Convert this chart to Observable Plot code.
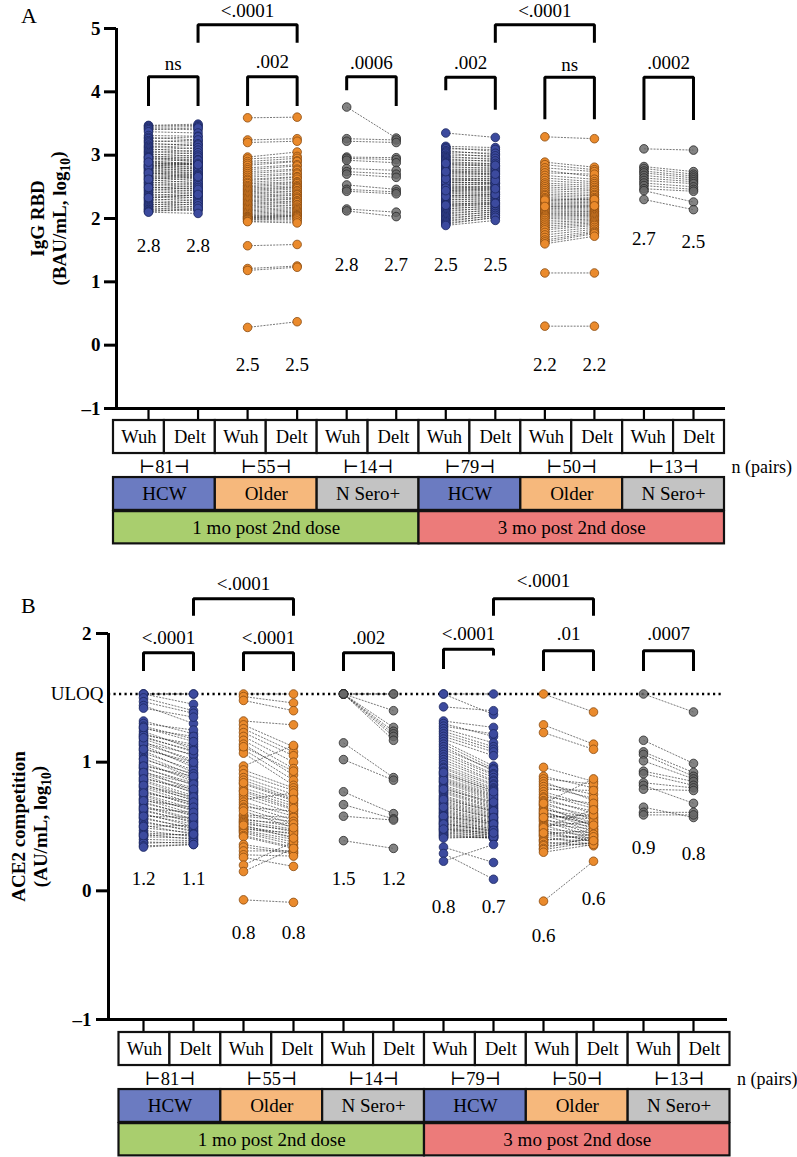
<!DOCTYPE html>
<html>
<head>
<meta charset="utf-8">
<script src="https://cdn.jsdelivr.net/npm/d3@7"></script>
<script src="https://cdn.jsdelivr.net/npm/@observablehq/plot@0.6"></script>
<style>
  body { margin: 0; background: #ffffff; }
  #wrap { position: relative; width: 797px; height: 1157px; font-family: "Liberation Serif", serif; overflow: hidden; }
  #wrap svg { position: absolute; left: 0; overflow: visible; }
  #wrap svg text { font-family: "Liberation Serif", "DejaVu Serif", serif; }
  .lab { position: absolute; font-size: 22px; font-family: "Liberation Serif", serif; }
</style>
</head>
<body>
<div id="wrap">
  <div class="lab" style="left:21px; top:3px;">A</div>
  <div class="lab" style="left:21px; top:593px;">B</div>
</div>
<script>
// ---------------- DATA ----------------
const strains = ["Wuh", "Delt"];
const cohorts = ["HCW", "Older", "N Sero+"];
const timepoints = ["1 mo post 2nd dose", "3 mo post 2nd dose"];
const nPairs = [81, 55, 14, 79, 50, 13];

// Panel A: IgG RBD (BAU/mL, log10)
const iggHcw1Wuh = [3.47,3.46,3.44,3.42,3.40,3.37,3.31,3.28,3.26,3.23,
 3.21,3.19,3.16,3.14,3.12,3.10,3.08,3.06,3.04,3.02,
 3.00,2.98,2.97,2.95,2.93,2.91,2.90,2.88,2.86,2.85,
 2.84,2.82,2.81,2.80,2.79,2.77,2.76,2.74,2.73,2.71,
 2.70,2.68,2.66,2.65,2.63,2.61,2.59,2.57,2.56,2.54,
 2.52,2.50,2.48,2.46,2.44,2.42,2.40,2.38,2.36,2.34,
 2.32,2.30,2.28,2.26,2.24,2.22,2.21,2.19,2.17,2.15,
 2.14,2.12,2.11,2.10,2.96,2.83,2.72,2.62,2.49,2.33,
 2.89];
const iggHcw1Delt = [3.49,3.47,3.45,3.40,3.43,3.35,3.30,3.24,3.29,3.20,
 3.24,3.15,3.18,3.10,3.16,3.05,3.12,3.02,3.08,2.98,
 3.04,2.95,3.00,2.90,2.97,2.86,2.93,2.84,2.90,2.80,
 2.88,2.78,2.86,2.75,2.83,2.72,2.80,2.70,2.77,2.66,
 2.74,2.64,2.70,2.60,2.68,2.56,2.64,2.53,2.60,2.50,
 2.56,2.47,2.52,2.43,2.49,2.40,2.45,2.36,2.41,2.33,
 2.37,2.29,2.34,2.25,2.30,2.22,2.27,2.18,2.24,2.15,
 2.20,2.13,2.16,2.08,2.92,2.87,2.68,2.66,2.46,2.38,
 2.85];
const iggOld1Wuh = [3.59,3.24,3.20,
 2.97,2.94,2.90,2.87,2.84,2.80,2.77,2.74,2.71,2.68,
 2.65,2.62,2.60,2.57,2.55,2.52,2.50,2.48,2.46,2.44,
 2.42,2.40,2.38,2.36,2.34,2.32,2.30,2.28,2.26,2.24,
 2.22,2.20,2.18,2.16,2.14,2.12,2.10,2.08,2.06,2.04,
 2.03,2.02,2.01,2.00,1.99,1.98,1.96,1.95,
 1.57,1.21,1.18,0.28];
const iggOld1Delt = [3.60,3.26,3.22,
 3.05,2.98,2.95,2.91,2.90,2.85,2.83,2.78,2.76,2.72,
 2.70,2.66,2.65,2.62,2.58,2.57,2.55,2.52,2.50,2.49,
 2.47,2.44,2.43,2.40,2.38,2.37,2.34,2.32,2.31,2.28,
 2.27,2.25,2.22,2.21,2.18,2.16,2.14,2.12,2.10,2.08,
 2.06,2.05,2.04,2.03,2.01,1.99,1.96,1.93,
 1.59,1.25,1.23,0.37];
const iggSero1Wuh = [3.76,3.26,3.22,2.97,2.95,2.92,2.79,2.74,2.70,2.53,2.46,2.43,2.15,2.12];
const iggSero1Delt = [3.27,3.24,3.20,2.96,2.93,2.88,2.76,2.70,2.65,2.46,2.42,2.39,2.10,2.03];
const iggHcw3Wuh = [3.35,
 3.14,3.12,3.10,3.07,3.05,3.03,3.00,2.98,2.96,2.94,
 2.92,2.90,2.88,2.86,2.84,2.82,2.80,2.78,2.76,2.75,
 2.73,2.71,2.70,2.68,2.66,2.64,2.62,2.61,2.59,2.57,
 2.56,2.54,2.52,2.51,2.49,2.47,2.46,2.44,2.42,2.41,
 2.39,2.37,2.36,2.34,2.32,2.30,2.29,2.27,2.25,2.23,
 2.22,2.20,2.18,2.16,2.15,2.13,2.11,2.09,2.07,2.05,
 2.03,2.01,1.99,1.97,1.95,1.93,1.91,1.89,2.58,2.48,
 2.35,2.63,2.74,2.21,2.44,2.87];
const iggHcw3Delt = [3.28,
 3.12,3.06,3.09,3.01,3.03,2.97,2.99,2.93,2.95,2.90,
 2.91,2.86,2.87,2.82,2.84,2.79,2.80,2.76,2.77,2.73,
 2.74,2.69,2.71,2.66,2.67,2.63,2.64,2.59,2.61,2.56,
 2.57,2.53,2.55,2.49,2.51,2.46,2.48,2.43,2.45,2.40,
 2.41,2.37,2.38,2.34,2.35,2.31,2.32,2.28,2.29,2.25,
 2.26,2.22,2.23,2.19,2.20,2.16,2.17,2.13,2.14,2.10,
 2.11,2.07,2.08,2.04,2.05,2.01,2.02,1.97,2.55,2.50,
 2.38,2.60,2.70,2.24,2.47,2.84];
const iggOld3Wuh = [3.29,
 2.89,2.85,2.80,2.76,2.72,2.68,2.64,2.60,2.56,2.53,
 2.50,2.47,2.44,2.41,2.38,2.36,2.33,2.31,2.28,2.26,
 2.24,2.22,2.20,2.18,2.16,2.14,2.12,2.10,2.08,2.06,
 2.04,2.02,2.00,1.97,1.94,1.91,1.88,1.85,1.82,1.78,
 1.74,1.70,1.66,1.63,1.60,2.29,2.19,
 1.14,0.30];
const iggOld3Delt = [3.26,
 2.81,2.77,2.74,2.66,2.70,2.62,2.58,2.55,2.52,2.49,
 2.46,2.44,2.41,2.38,2.36,2.33,2.31,2.29,2.27,2.25,
 2.23,2.21,2.19,2.17,2.15,2.13,2.11,2.10,2.08,2.06,
 2.05,2.03,2.01,1.99,1.97,1.95,1.93,1.91,1.89,1.86,
 1.83,1.80,1.78,1.76,1.72,2.30,2.20,
 1.14,0.30];
const iggSero3Wuh = [3.10,2.82,2.79,2.75,2.72,2.68,2.64,2.60,2.56,2.52,2.47,2.44,2.30];
const iggSero3Delt = [3.08,2.74,2.70,2.67,2.64,2.61,2.58,2.55,2.50,2.46,2.43,2.26,2.14];

const iggMedians = [2.8,2.8, 2.5,2.5, 2.8,2.7, 2.5,2.5, 2.2,2.2, 2.7,2.5];
const iggP = ["ns", ".002", ".0006", ".002", "ns", ".0002"];
const iggPTop = ["<.0001", "<.0001"];

// Panel B: ACE2 competition (AU/mL, log10)
const aceUloq = 1.53;
const aceHcw1Wuh = [1.53,1.53,1.53,1.50,1.47,1.44,1.42,1.32,1.30,1.28,
 1.26,1.24,1.22,1.20,1.18,1.16,1.14,1.13,1.11,1.09,
 1.07,1.05,1.03,1.00,0.98,0.96,0.95,0.93,0.91,0.90,
 0.88,0.86,0.85,0.83,0.81,0.80,0.78,0.77,0.75,0.74,
 0.72,0.71,0.69,0.68,0.66,0.65,0.63,0.62,0.60,0.59,
 0.57,0.56,0.54,0.53,0.51,0.49,0.47,0.45,0.44,0.42,
 0.40,0.38,0.37,0.35,0.34,1.21,1.15,1.10,1.02,0.97,
 0.92,0.87,0.82,0.76,0.70,0.64,0.58,0.50,0.43,1.27,
 1.19];
const aceHcw1Delt = [1.53,1.53,1.45,1.40,1.38,1.30,1.35,1.22,1.25,1.18,
 1.20,1.10,1.12,1.08,1.05,1.00,1.02,0.96,0.98,0.92,
 0.94,0.90,0.88,0.85,0.87,0.82,0.84,0.78,0.80,0.76,
 0.77,0.74,0.72,0.70,0.71,0.68,0.66,0.67,0.64,0.62,
 0.63,0.60,0.58,0.59,0.56,0.55,0.53,0.54,0.50,0.52,
 0.48,0.49,0.46,0.47,0.44,0.45,0.42,0.43,0.40,0.41,
 0.39,0.37,0.38,0.36,0.36,1.14,1.06,1.00,0.91,0.89,
 0.83,0.79,0.73,0.69,0.65,0.61,0.57,0.51,0.44,1.16,
 1.09];
const aceOld1Wuh = [1.53,1.51,1.48,
 1.32,1.29,1.26,1.23,1.20,1.17,1.14,1.10,1.07,
 0.97,0.94,0.91,0.88,0.86,0.83,0.80,0.78,0.75,0.73,0.71,0.69,0.67,0.65,0.64,
 0.59,0.58,0.56,0.55,0.54,0.53,0.52,0.50,0.49,0.48,0.47,0.46,0.45,0.43,0.42,
 0.36,0.34,0.31,0.28,0.26,0.20,
 0.15,-0.07,
 0.84,0.77,0.62,0.51,1.12];
const aceOld1Delt = [1.53,1.46,1.40,
 1.29,1.12,1.08,1.05,1.00,0.95,0.90,0.86,0.82,
 1.13,0.80,0.78,0.75,0.72,0.70,0.68,0.66,0.63,0.60,0.76,0.58,0.55,0.62,0.52,
 0.57,0.54,0.50,0.52,0.48,0.46,0.47,0.44,0.42,0.45,0.40,0.38,0.36,0.34,0.33,
 0.30,0.29,0.31,0.27,0.19,0.38,
 0.33,-0.09,
 0.71,0.64,0.49,0.41,0.93];
const aceSero1Wuh = [1.53,1.53,1.53,1.53,1.53,1.53,1.53,1.53,1.15,1.02,0.77,0.67,0.58,0.39];
const aceSero1Delt = [1.53,1.53,1.40,1.27,1.24,1.22,1.20,1.17,0.88,0.86,0.60,0.56,0.55,0.33];
const aceHcw3Wuh = [1.53,1.53,1.43,
 1.32,1.30,1.28,1.26,1.24,1.22,1.20,1.18,1.16,1.14,
 1.12,1.10,1.08,1.06,1.04,1.02,1.00,0.98,0.96,0.95,
 0.93,0.91,0.90,0.88,0.87,0.85,0.84,0.82,0.81,0.80,
 0.78,0.77,0.76,0.74,0.73,0.72,0.70,0.69,0.68,0.67,
 0.66,0.64,0.63,0.62,0.61,0.60,0.59,0.58,0.57,0.56,
 0.55,0.54,0.53,0.52,0.51,0.50,0.49,0.48,0.47,0.46,
 0.45,0.44,0.43,0.42,0.41,0.86,0.79,0.71,0.65,0.58,
 0.52,0.48,0.92,
 0.34,0.29,0.23];
const aceHcw3Delt = [1.53,1.37,1.40,
 1.27,1.20,1.22,1.15,1.12,1.10,1.08,1.05,0.97,0.95,
 0.93,0.94,0.91,0.90,0.88,0.86,0.85,0.83,0.82,0.80,
 0.79,0.78,0.76,0.75,0.74,0.72,0.71,0.70,0.68,0.67,
 0.66,0.65,0.64,0.63,0.62,0.61,0.60,0.59,0.58,0.57,
 0.56,0.55,0.54,0.53,0.53,0.52,0.51,0.50,0.49,0.48,
 0.48,0.47,0.46,0.46,0.45,0.44,0.44,0.43,0.43,0.42,
 0.42,0.41,0.41,0.41,0.42,0.73,0.69,0.62,0.57,0.52,
 0.47,0.45,0.77,
 0.22,0.09,0.36];
const aceOld3Wuh = [1.53,1.29,1.23,0.96,
 0.89,0.87,0.85,0.83,0.81,0.79,0.77,0.75,0.73,0.72,
 0.70,0.69,0.67,0.66,0.64,0.63,0.62,0.60,0.59,0.58,
 0.56,0.55,0.54,0.52,0.51,0.50,0.48,0.47,0.46,0.44,
 0.43,0.42,0.40,0.39,0.38,0.36,0.35,0.33,0.32,0.30,
 0.61,0.57,0.49,0.45,0.68,
 -0.08];
const aceOld3Delt = [1.39,1.14,1.10,0.85,
 0.80,0.83,0.70,0.75,0.72,0.78,0.66,0.64,0.68,0.60,
 0.62,0.55,0.58,0.50,0.53,0.57,0.48,0.52,0.46,0.56,
 0.44,0.50,0.42,0.48,0.40,0.54,0.45,0.38,0.43,0.47,
 0.41,0.36,0.39,0.44,0.35,0.40,0.37,0.42,0.38,0.36,
 0.51,0.59,0.63,0.39,0.87,
 0.23];
const aceSero3Wuh = [1.53,1.17,1.08,1.06,1.01,0.93,0.91,0.84,0.82,0.79,0.65,0.61,0.59];
const aceSero3Delt = [1.39,0.99,0.92,0.89,0.87,0.85,0.82,0.80,0.68,0.78,0.57,0.61,0.59];

const aceMedians = [1.2,1.1, 0.8,0.8, 1.5,1.2, 0.8,0.7, 0.6,0.6, 0.9,0.8];
const aceP = ["<.0001", "<.0001", ".002", "<.0001", ".01", ".0007"];
const acePTop = ["<.0001", "<.0001"];

// ---------------- STYLE / LAYOUT ----------------
const W = 797;
const FONT = "Liberation Serif";
const dotFill = ["#3c4a9e", "#ea8a2c", "#686868"];
const dotStroke = ["#1c275f", "#8a4b10", "#2a2a2a"];
const dotOpacity = [1, 1, 0.82];
const boxFill = {"HCW": "#6b7bc1", "Older": "#f6b87c", "N Sero+": "#c3c3c3"};
const timeFill = ["#a9ce6e", "#ec7b7a"];

const wrap = document.getElementById("wrap");
const T = {fontFamily: FONT, fill: "#000"};

function drawPanel(o) {
  const pts = [], links = [];
  o.arrays.forEach(([w, d], k) => {
    w.forEach((v, i) => {
      links.push({x1: 2 * k, x2: 2 * k + 1, y1: v, y2: d[i]});
      pts.push({x: 2 * k, y: v, k: k % 3});
      pts.push({x: 2 * k + 1, y: d[i], k: k % 3});
    });
  });
  const L = o.layout;
  const br = [];
  o.pGroup.forEach((p, k) => {
    const id = "g" + k;
    br.push({x: 2 * k, y: L.legL[k], id}, {x: 2 * k, y: L.gTop[k], id},
            {x: 2 * k + 1, y: L.gTop[k], id}, {x: 2 * k + 1, y: L.legR[k], id});
  });
  o.pTop.forEach((p, j) => {
    const id = "t" + j, a = 6 * j + 1, b = 6 * j + 3;
    br.push({x: a, y: L.tLeg, id}, {x: a, y: L.tTop, id}, {x: b, y: L.tTop, id}, {x: b, y: L.tLeg, id});
  });
  const cols = d3.range(12);
  const marks = [];
  if (o.uloq != null) {
    marks.push(Plot.ruleY([o.uloq], {x1: o.xDom[0], x2: 11.6, stroke: "#000", strokeWidth: 2.6, strokeDasharray: "2.2,3.3"}));
    marks.push(Plot.text(["ULOQ"], {...T, x: o.xDom[0], y: o.uloq, text: d => d, textAnchor: "end", dx: -5, fontSize: 19}));
  }
  marks.push(
    Plot.link(links, {x1: "x1", y1: "y1", x2: "x2", y2: "y2", stroke: "#2a2a2a", strokeWidth: 0.75, strokeDasharray: "2,1.2", strokeOpacity: 0.85}),
    ...[0, 1, 2].map(k => Plot.dot(pts.filter(p => p.k === k), {x: "x", y: "y", r: 4.3, fill: dotFill[k], fillOpacity: dotOpacity[k], stroke: dotStroke[k], strokeWidth: 0.8})),
    Plot.ruleX([o.xDom[0]], {y1: o.yDom[0], y2: o.yDom[1], stroke: "#000", strokeWidth: 3}),
    Plot.ruleY([o.yDom[0]], {x1: o.xDom[0], x2: o.xDom[1], stroke: "#000", strokeWidth: 3}),
    Plot.axisY({ticks: o.ticks, tickSize: 12, tickPadding: o.tickPad, strokeWidth: 3, fontWeight: "bold", fontSize: 19, fontFamily: FONT, label: null,
                tickFormat: d => d < 0 ? "\u2013" + Math.abs(d) : String(d)}),
    Plot.axisX({ticks: cols, tickSize: o.connector, strokeWidth: 2.2, tickFormat: () => "", label: null}),
    Plot.line(br, {x: "x", y: "y", z: "id", stroke: "#000", strokeWidth: 3, strokeLinejoin: "miter", strokeLinecap: "square"}),
    Plot.text(o.pGroup, {...T, x: (d, i) => 2 * i + 0.5, y: (d, i) => L.gText[i], text: d => d, fontSize: 19}),
    Plot.text(o.pTop, {...T, x: (d, i) => 6 * i + 2, y: (d, i) => L.tText[i], text: d => d, fontSize: 19}),
    Plot.text(o.medians, {...T, x: (d, i) => i, y: (d, i) => o.labelY[i], text: d => d.toFixed(1), fontSize: 19}),
    Plot.text([o.title[0]], {...T, x: o.xDom[0], y: o.titleY, text: d => d, rotate: -90, dx: o.titleDx[0], fontWeight: "bold", fontSize: 19}),
    Plot.text([o.title[1]], {...T, x: o.xDom[0], y: o.titleY, text: d => d, rotate: -90, dx: o.titleDx[1], fontWeight: "bold", fontSize: 19})
  );
  const svg = Plot.plot({
    width: W, height: o.height,
    marginTop: o.m[0], marginRight: o.m[1], marginBottom: o.m[2], marginLeft: o.m[3],
    x: {domain: o.xDom}, y: {domain: o.yDom},
    style: {background: "transparent", fontFamily: FONT, fontSize: "18px", color: "#000", overflow: "visible"},
    marks
  });
  // subscript "10" in log10
  d3.select(svg).selectAll("text").each(function () {
    const t = this.textContent;
    if (t.endsWith("log10)")) {
      const s = d3.select(this);
      s.text(null);
      s.append("tspan").text(t.slice(0, -3));
      s.append("tspan").attr("dy", "0.3em").attr("font-size", "0.72em").text("10");
      s.append("tspan").attr("dy", "-0.3em").text(")");
    }
  });
  svg.style.top = o.top + "px";
  wrap.appendChild(svg);
}

function drawTable(o) {
  const sBoxes = d3.range(12).map(i => ({i, s: strains[i % 2]}));
  const gBoxes = d3.range(6).map(k => ({k, g: cohorts[k % 3]}));
  const tBoxes = timepoints.map((t, j) => ({j, t}));
  const R = {s0: 0, s1: 1.065, n: 1.5, g0: 1.84, g1: 2.9, t0: 2.94, t1: 3.98};
  const svg = Plot.plot({
    width: W, height: 130, marginTop: 2, marginBottom: 4, marginLeft: o.x0, marginRight: W - o.x1,
    x: {domain: [0, 12], axis: null}, y: {domain: [0, 4], reverse: true, axis: null},
    color: {type: "identity"},
    style: {background: "transparent", fontFamily: FONT, fontSize: "18px", color: "#000", overflow: "visible"},
    marks: [
      Plot.rect(sBoxes, {x1: d => d.i, x2: d => d.i + 1, y1: R.s0, y2: R.s1, fill: "#fff", stroke: "#111", strokeWidth: 2.2}),
      Plot.text(sBoxes, {...T, x: d => d.i + 0.5, y: (R.s0 + R.s1) / 2, text: "s", fontSize: 18.5}),
      Plot.text(nPairs, {...T, x: (d, i) => 2 * i + 1, y: R.n, text: d => "\u22A2" + d + "\u22A3", fontSize: 18.5}),
      Plot.text(["n (pairs)"], {...T, x: 12, y: R.n, text: d => d, textAnchor: "start", dx: 7, fontSize: 18}),
      Plot.rect(gBoxes, {x1: d => 2 * d.k, x2: d => 2 * d.k + 2, y1: R.g0, y2: R.g1, fill: d => boxFill[d.g], stroke: "#111", strokeWidth: 2.2}),
      Plot.text(gBoxes, {...T, x: d => 2 * d.k + 1, y: (R.g0 + R.g1) / 2, text: "g", fontSize: 19}),
      Plot.rect(tBoxes, {x1: d => 6 * d.j, x2: d => 6 * d.j + 6, y1: R.t0, y2: R.t1, fill: d => timeFill[d.j], stroke: "#111", strokeWidth: 2.2}),
      Plot.text(tBoxes, {...T, x: d => 6 * d.j + 3, y: (R.t0 + R.t1) / 2, text: "t", fontSize: 19})
    ]
  });
  svg.style.top = o.top + "px";
  wrap.appendChild(svg);
}

// Panel A
drawPanel({
  top: 0, height: 430, m: [28, 72, 22, 116],
  xDom: [-0.646, 11.646], yDom: [-1, 5], ticks: [-1, 0, 1, 2, 3, 4, 5], tickPad: 4, connector: 12,
  arrays: [[iggHcw1Wuh, iggHcw1Delt], [iggOld1Wuh, iggOld1Delt], [iggSero1Wuh, iggSero1Delt],
           [iggHcw3Wuh, iggHcw3Delt], [iggOld3Wuh, iggOld3Delt], [iggSero3Wuh, iggSero3Delt]],
  medians: iggMedians, pGroup: iggP, pTop: iggPTop,
  labelY: [1.57, 1.57, -0.31, -0.31, 1.26, 1.26, 1.26, 1.26, -0.31, -0.31, 1.68, 1.63],
  layout: {gTop: [4.24, 4.24, 4.24, 4.23, 4.23, 4.23], legL: [3.80, 3.80, 4.05, 4.05, 3.59, 3.58], legR: [3.80, 3.80, 3.80, 3.74, 3.59, 3.58],
           gText: [4.44, 4.48, 4.46, 4.46, 4.42, 4.46], tTop: 5.06, tLeg: 4.80, tText: [5.27, 5.28]},
  title: ["IgG RBD", "(BAU/mL, log10)"], titleY: 2.0, titleDx: [-79, -57]
});
drawTable({top: 418, x0: 113, x1: 724});

// Panel B
drawPanel({
  top: 560, height: 480, m: [73, 70, 21, 108],
  xDom: [-0.7, 11.68], yDom: [-1, 2], ticks: [-1, 0, 1, 2], tickPad: 5, connector: 13,
  arrays: [[aceHcw1Wuh, aceHcw1Delt], [aceOld1Wuh, aceOld1Delt], [aceSero1Wuh, aceSero1Delt],
           [aceHcw3Wuh, aceHcw3Delt], [aceOld3Wuh, aceOld3Delt], [aceSero3Wuh, aceSero3Delt]],
  medians: aceMedians, pGroup: aceP, pTop: acePTop, uloq: aceUloq,
  labelY: [0.093, 0.093, -0.33, -0.33, 0.093, 0.093, -0.124, -0.124, -0.35, -0.06, 0.33, 0.29],
  layout: {gTop: [1.85, 1.85, 1.85, 1.878, 1.865, 1.865], legL: [1.72, 1.72, 1.72, 1.735, 1.72, 1.72], legR: [1.72, 1.72, 1.72, 1.84, 1.72, 1.72],
           gText: [1.963, 1.963, 1.963, 2.0, 2.0, 2.0], tTop: 2.27, tLeg: 2.15, tText: [2.383, 2.41]},
  title: ["ACE2 competition", "(AU/mL, log10)"], titleY: 0.5, titleDx: [-90, -68]
});
drawTable({top: 1030, x0: 118.5, x1: 729.5});
</script>
</body>
</html>
